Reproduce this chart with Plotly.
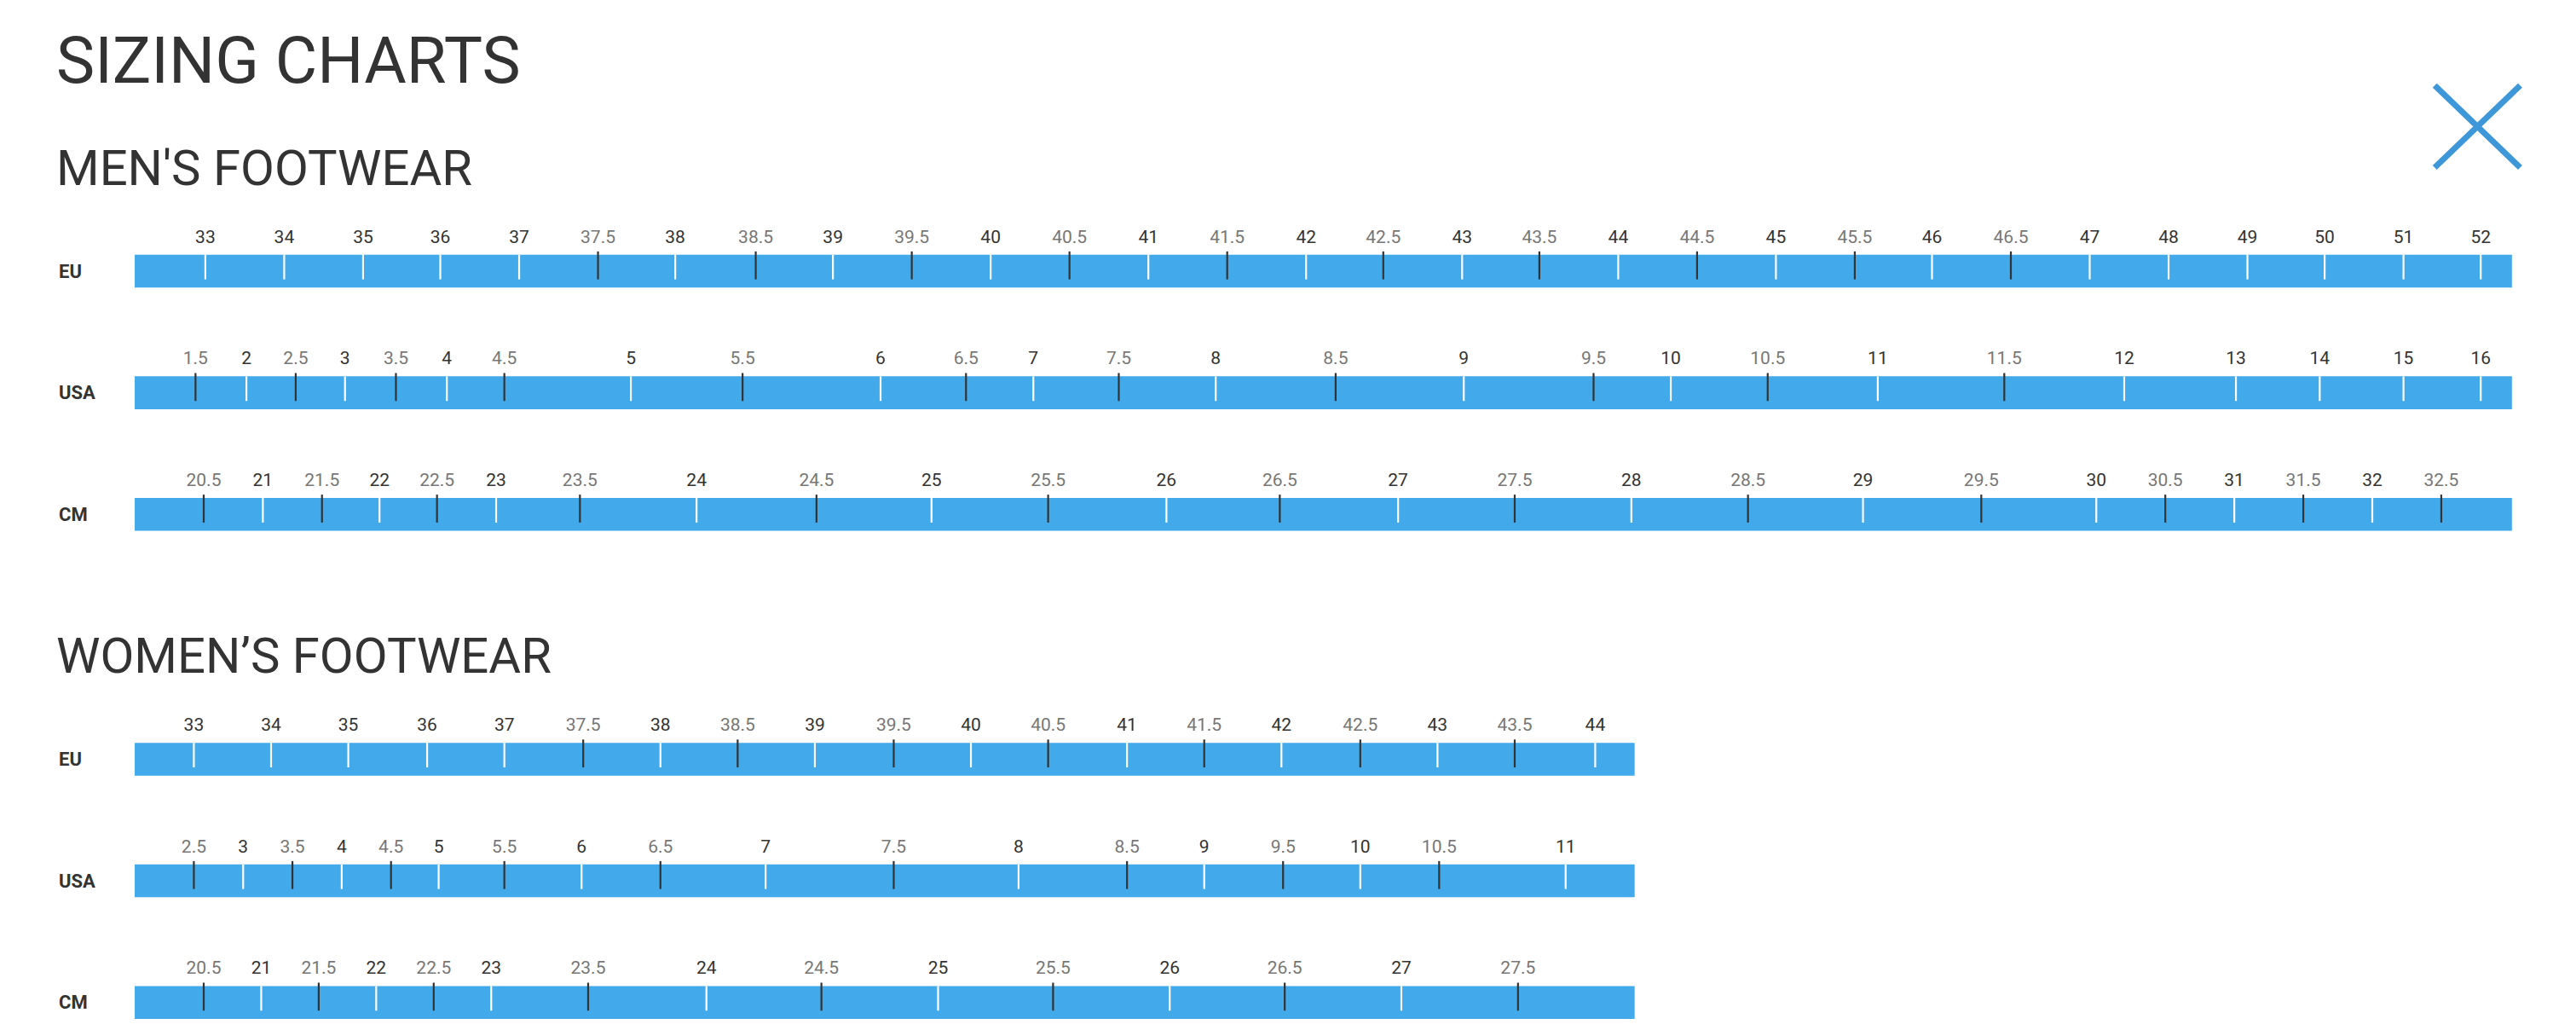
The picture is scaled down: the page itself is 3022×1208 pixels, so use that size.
import plotly.graph_objects as go

S = 3022 / 1568.0

men_eu = ["33","34","35","36","37","37.5","38","38.5","39","39.5","40","40.5","41","41.5","42","42.5","43","43.5","44","44.5","45","45.5","46","46.5","47","48","49","50","51","52"]
men_eu_x = [125,173,221,268,316,364,411,460,507,555,603,651,699,747,795,842,890,937,985,1033,1081,1129,1176,1224,1272,1320,1368,1415,1463,1510]
men_us = ["1.5","2","2.5","3","3.5","4","4.5","5","5.5","6","6.5","7","7.5","8","8.5","9","9.5","10","10.5","11","11.5","12","13","14","15","16"]
men_us_x = [119,150,180,210,241,272,307,384,452,536,588,629,681,740,813,891,970,1017,1076,1143,1220,1293,1361,1412,1463,1510]
men_cm = ["20.5","21","21.5","22","22.5","23","23.5","24","24.5","25","25.5","26","26.5","27","27.5","28","28.5","29","29.5","30","30.5","31","31.5","32","32.5"]
men_cm_x = [124,160,196,231,266,302,353,424,497,567,638,710,779,851,922,993,1064,1134,1206,1276,1318,1360,1402,1444,1486]
wom_eu = ["33","34","35","36","37","37.5","38","38.5","39","39.5","40","40.5","41","41.5","42","42.5","43","43.5","44"]
wom_eu_x = [118,165,212,260,307,355,402,449,496,544,591,638,686,733,780,828,875,922,971]
wom_us = ["2.5","3","3.5","4","4.5","5","5.5","6","6.5","7","7.5","8","8.5","9","9.5","10","10.5","11"]
wom_us_x = [118,148,178,208,238,267,307,354,402,466,544,620,686,733,781,828,876,953]
wom_cm = ["20.5","21","21.5","22","22.5","23","23.5","24","24.5","25","25.5","26","26.5","27","27.5"]
wom_cm_x = [124,159,194,229,264,299,358,430,500,571,641,712,782,853,924]

BLUE = "#42a9ea"
DARK = "#333333"
GREY = "#777777"

fig = go.Figure()
shapes = []

def add_row(name, labels, xs, ytop, x1):
    shapes.append(dict(type="rect", xref="x", yref="y", x0=82, x1=x1, y0=ytop, y1=ytop + 20,
                       fillcolor=BLUE, line_width=0, layer="below"))
    for half, col in [(False, "white"), (True, DARK)]:
        lx, ly = [], []
        for l, x in zip(labels, xs):
            if ("." in l) == half:
                lx += [x, x, None]
                ly += [ytop - (2 if half else 0), ytop + 15, None]
        fig.add_trace(go.Scatter(x=lx, y=ly, mode="lines", line=dict(color=col, width=2.2),
                                 hoverinfo="skip", showlegend=False))
        fig.add_trace(go.Scatter(x=[x for l, x in zip(labels, xs) if ("." in l) == half],
                                 y=[ytop - 10] * sum(1 for l in labels if ("." in l) == half),
                                 text=[l for l in labels if ("." in l) == half],
                                 mode="text", textfont=dict(family="Roboto", size=21,
                                 color=GREY if half else DARK), showlegend=False, hoverinfo="skip"))
    fig.add_annotation(x=35, y=ytop + 10, text="<b>%s</b>" % name, showarrow=False, xanchor="left",
                       font=dict(family="Roboto", size=22, color=DARK))

add_row("EU", men_eu, men_eu_x, 155, 1529)
add_row("USA", men_us, men_us_x, 229, 1529)
add_row("CM", men_cm, men_cm_x, 303, 1529)
add_row("EU", wom_eu, wom_eu_x, 452, 995)
add_row("USA", wom_us, wom_us_x, 526, 995)
add_row("CM", wom_cm, wom_cm_x, 600, 995)

for txt, y, sz in [("SIZING CHARTS", 37, 76), ("MEN'S FOOTWEAR", 102, 58), ("WOMEN’S FOOTWEAR", 399, 58)]:
    fig.add_annotation(x=33, y=y, text=txt, showarrow=False, xanchor="left",
                       font=dict(family="Roboto", size=sz, color="#333333"))

# close icon
fig.add_trace(go.Scatter(x=[1482, 1534, None, 1534, 1482], y=[52, 102, None, 52, 102], mode="lines",
                         line=dict(color="#3d97d8", width=7), hoverinfo="skip", showlegend=False))

W, H = 3006, 1192
off = 8 / S
fig.update_layout(width=W, height=H, margin=dict(l=0, r=0, t=0, b=0),
                  plot_bgcolor="white", paper_bgcolor="white", shapes=shapes,
                  xaxis=dict(range=[off, off + W / S], visible=False, fixedrange=True),
                  yaxis=dict(range=[off + H / S, off], visible=False, fixedrange=True))
fig.write_html("out.html")
